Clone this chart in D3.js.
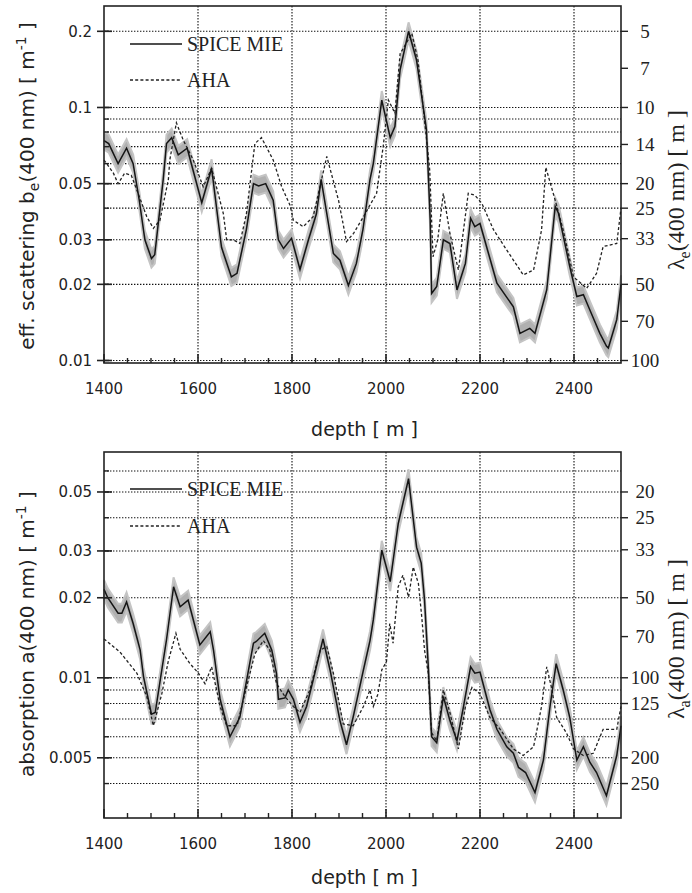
<!DOCTYPE html>
<html><head><meta charset="utf-8">
<script src="https://cdn.jsdelivr.net/npm/d3@7/dist/d3.min.js"></script>
<style>body{margin:0;background:#fff}</style>
</head><body><svg id="c" width="692" height="893"></svg>
<script>
// ---------- DATA ----------
const depthMajorTicks = [1400,1600,1800,2000,2200,2400];
const depthMinorTicks = [1450,1500,1550,1650,1700,1750,1850,1900,1950,2050,2100,2150,2250,2300,2350,2450];
const depthGrid = [1600,1800,2000,2200,2400];

// top panel: effective scattering
const scatLeftTicks = [0.2,0.1,0.05,0.03,0.02,0.01];
const scatLeftLabels = ["0.2","0.1","0.05","0.03","0.02","0.01"];
const scatGrid = [0.2,0.1,0.09,0.08,0.07,0.06,0.05,0.04,0.03,0.02,0.01];
const scatRightTicks = [5,7,10,14,20,25,33,50,70,100];

const spiceScatDepth = [1400,1410,1430,1448,1462,1475,1487,1501,1508,1526,1533,1544,1558,1577,1608,1629,1650,1671,1683,1703,1718,1729,1744,1760,1771,1782,1799,1817,1835,1852,1862,1888,1902,1920,1937,1951,1966,1973,1991,2009,2019,2030,2048,2065,2086,2094,2097,2108,2122,2136,2151,2169,2180,2189,2200,2236,2271,2285,2306,2317,2342,2360,2367,2391,2406,2420,2434,2455,2469,2473,2491,2500];
const spiceScat = [0.074,0.072,0.060,0.069,0.060,0.043,0.030,0.0253,0.0262,0.052,0.072,0.076,0.065,0.069,0.042,0.0575,0.028,0.0214,0.0221,0.033,0.050,0.049,0.050,0.043,0.030,0.0277,0.0304,0.0229,0.030,0.038,0.052,0.0265,0.0249,0.0198,0.0242,0.033,0.052,0.060,0.107,0.076,0.084,0.141,0.200,0.154,0.082,0.036,0.0184,0.0196,0.030,0.029,0.019,0.0242,0.0365,0.0338,0.0348,0.0202,0.0163,0.0128,0.0134,0.0128,0.019,0.0406,0.0382,0.0235,0.0179,0.0182,0.0158,0.0128,0.0114,0.0112,0.0145,0.020];

const ahaScatDepth = [1400,1420,1430,1444,1458,1480,1491,1505,1519,1537,1540,1554,1569,1590,1611,1629,1654,1661,1675,1689,1703,1721,1735,1760,1778,1796,1803,1824,1845,1874,1895,1899,1916,1931,1952,1980,1994,2005,2019,2030,2055,2068,2082,2093,2100,2110,2122,2136,2154,2175,2189,2204,2229,2257,2292,2314,2331,2340,2360,2377,2399,2427,2448,2462,2491,2500];
const ahaScat = [0.062,0.055,0.050,0.055,0.054,0.042,0.037,0.0333,0.0358,0.052,0.062,0.087,0.074,0.062,0.0486,0.0575,0.038,0.030,0.030,0.029,0.038,0.072,0.076,0.062,0.0486,0.041,0.0358,0.0338,0.037,0.064,0.0458,0.043,0.0295,0.0318,0.037,0.0458,0.070,0.107,0.095,0.163,0.196,0.154,0.089,0.0566,0.0257,0.030,0.0458,0.0318,0.0228,0.0458,0.045,0.0418,0.0328,0.0273,0.0218,0.0228,0.0328,0.058,0.043,0.0328,0.0214,0.0193,0.0221,0.0282,0.029,0.040];

// bottom panel: absorption
const absLeftTicks = [0.05,0.03,0.02,0.01,0.005];
const absLeftLabels = ["0.05","0.03","0.02","0.01","0.005"];
const absGrid = [0.06,0.05,0.04,0.03,0.02,0.01,0.009,0.008,0.007,0.006,0.005,0.004];
const absRightTicks = [20,25,33,50,70,100,125,200,250];

const spiceAbsDepth = [1400,1408,1430,1438,1448,1462,1477,1484,1501,1509,1523,1533,1548,1562,1579,1604,1626,1633,1647,1668,1689,1718,1724,1742,1757,1767,1771,1785,1792,1803,1817,1831,1845,1866,1881,1902,1916,1930,1952,1966,1973,1991,2009,2026,2048,2065,2075,2082,2090,2097,2108,2122,2136,2151,2165,2180,2189,2200,2221,2236,2257,2271,2282,2297,2317,2335,2349,2362,2377,2391,2406,2420,2434,2448,2469,2491,2500];
const spiceAbs = [0.0215,0.0200,0.0175,0.0175,0.0193,0.0160,0.0127,0.0101,0.0073,0.0074,0.0107,0.0139,0.0220,0.0185,0.0196,0.0133,0.0149,0.0127,0.0083,0.0060,0.0071,0.0135,0.0137,0.0147,0.0127,0.0104,0.0083,0.0084,0.0090,0.0083,0.0068,0.0078,0.0098,0.0140,0.0107,0.0069,0.0056,0.0071,0.0107,0.0138,0.0165,0.0302,0.0230,0.0380,0.0561,0.0310,0.0270,0.0196,0.0110,0.0060,0.0057,0.0085,0.0069,0.0058,0.0078,0.0110,0.0104,0.0105,0.0076,0.0064,0.0055,0.0052,0.0046,0.0044,0.0037,0.0049,0.0078,0.0113,0.0090,0.0071,0.0049,0.0055,0.0048,0.0044,0.0036,0.0051,0.0066];

const ahaAbsDepth = [1400,1434,1470,1491,1505,1523,1537,1553,1562,1583,1601,1615,1629,1647,1661,1683,1703,1721,1739,1753,1767,1785,1803,1817,1838,1860,1874,1888,1909,1930,1952,1966,1973,1983,1991,2001,2008,2015,2026,2036,2048,2058,2069,2076,2082,2090,2097,2108,2122,2136,2154,2169,2183,2200,2221,2243,2271,2292,2314,2331,2342,2352,2363,2384,2399,2420,2441,2462,2491,2500];
const ahaAbs = [0.0140,0.0125,0.0104,0.0085,0.0066,0.0087,0.0116,0.0147,0.0128,0.0113,0.0104,0.0095,0.0110,0.0078,0.0066,0.0066,0.0092,0.0123,0.0138,0.0127,0.0095,0.0085,0.0078,0.0074,0.0090,0.0127,0.0131,0.0104,0.0067,0.0066,0.0078,0.0090,0.0078,0.0087,0.0107,0.0115,0.0160,0.0135,0.0220,0.0243,0.0201,0.0261,0.0226,0.0170,0.0127,0.0104,0.0062,0.0058,0.0090,0.0074,0.0054,0.0078,0.0092,0.0087,0.0071,0.0064,0.0054,0.0051,0.0055,0.0078,0.0110,0.0092,0.0071,0.0062,0.0054,0.0051,0.0052,0.0064,0.0064,0.0078];

const legendLabels = ["SPICE MIE","AHA"];
const relUncertainty = 0.085;

// ---------- DRAW ----------
const svg = d3.select("#c");
const X0 = 104, X1 = 621;
const x = d3.scaleLinear().domain([1400,2500]).range([X0,X1]);
const SANS = "DejaVu Sans", SERIF = "Liberation Serif";

function zip(ds, vs){ return ds.map((d,i)=>({d:d, v:vs[i]})); }

function panel(o){
  const g = svg.append("g");
  const y = d3.scaleLog().domain(o.domain).range([o.y1,o.y0]);
  const yR = d3.scaleLog().domain([1/o.domain[1], 1/o.domain[0]]).range([o.y0,o.y1]);

  // grid
  const gridStyle = s => s.attr("stroke","#111").attr("stroke-width",1.1).attr("stroke-dasharray","1.4,1.6");
  g.selectAll(".hg").data(o.grid).enter().append("line")
    .attr("x1",X0).attr("x2",X1).attr("y1",d=>y(d)).attr("y2",d=>y(d)).call(gridStyle);
  g.selectAll(".vg").data(depthGrid).enter().append("line")
    .attr("x1",d=>x(d)).attr("x2",d=>x(d)).attr("y1",o.y0).attr("y2",o.y1).call(gridStyle);

  // band
  const sp = zip(o.spiceD,o.spiceV);
  g.append("path").datum(sp)
    .attr("d", d3.area().x(p=>x(p.d)).y0(p=>y(p.v/(1+relUncertainty))).y1(p=>y(p.v*(1+relUncertainty))))
    .attr("fill","#b0b0b0").attr("stroke","#c4c4c4").attr("stroke-width",2);
  // AHA
  g.append("path").datum(zip(o.ahaD,o.ahaV))
    .attr("d", d3.line().x(p=>x(p.d)).y(p=>y(p.v)))
    .attr("fill","none").attr("stroke","#222").attr("stroke-width",1.3).attr("stroke-dasharray","3,2.2");
  // SPICE
  g.append("path").datum(sp)
    .attr("d", d3.line().x(p=>x(p.d)).y(p=>y(p.v)))
    .attr("fill","none").attr("stroke","#151515").attr("stroke-width",1.5);

  // frame
  g.append("rect").attr("x",X0).attr("y",o.y0).attr("width",X1-X0).attr("height",o.y1-o.y0)
    .attr("fill","none").attr("stroke","#222").attr("stroke-width",1.6);

  // x ticks (inward)
  g.selectAll(".xt").data(depthMajorTicks).enter().append("line")
    .attr("x1",d=>x(d)).attr("x2",d=>x(d)).attr("y1",o.y1).attr("y2",o.y1-9)
    .attr("stroke","#222").attr("stroke-width",1.6);
  g.selectAll(".xm").data(depthMinorTicks).enter().append("line")
    .attr("x1",d=>x(d)).attr("x2",d=>x(d)).attr("y1",o.y1).attr("y2",o.y1-5)
    .attr("stroke","#222").attr("stroke-width",1.4);
  g.selectAll(".xl").data(depthMajorTicks).enter().append("text")
    .attr("x",d=>x(d)).attr("y",o.y1+31).attr("text-anchor","middle")
    .attr("font-family",SANS).attr("font-size",15).attr("fill","#222").text(d=>d);
  g.append("text").attr("x",(X0+X1)/2+2).attr("y",o.xTitleY).attr("text-anchor","middle")
    .attr("font-family",SANS).attr("font-size",19).attr("fill","#222").text("depth [ m ]");

  // left ticks
  g.selectAll(".lm").data(o.grid).enter().append("line")
    .attr("x1",X0).attr("x2",X0+5).attr("y1",d=>y(d)).attr("y2",d=>y(d))
    .attr("stroke","#222").attr("stroke-width",1.4);
  g.selectAll(".lt").data(o.leftTicks).enter().append("line")
    .attr("x1",X0-7).attr("x2",X0+8).attr("y1",d=>y(d)).attr("y2",d=>y(d))
    .attr("stroke","#222").attr("stroke-width",1.6);
  g.selectAll(".ll").data(o.leftTicks).enter().append("text")
    .attr("x",92).attr("y",d=>y(d)).attr("dy","0.36em").attr("text-anchor","end")
    .attr("font-family",SANS).attr("font-size",15).attr("fill","#222").text((d,i)=>o.leftLabels[i]);

  // right ticks (lambda)
  g.selectAll(".rt").data(o.rightTicks).enter().append("line")
    .attr("x1",X1).attr("x2",X1+7).attr("y1",d=>yR(d)).attr("y2",d=>yR(d))
    .attr("stroke","#222").attr("stroke-width",1.4);
  g.selectAll(".rl").data(o.rightTicks).enter().append("text")
    .attr("x",645).attr("y",d=>yR(d)).attr("dy","0.34em").attr("text-anchor","middle")
    .attr("font-family",SERIF).attr("font-size",19).attr("fill","#222").text(d=>d);

  // left title
  const lt = g.append("text").attr("transform",`translate(27,${o.leftTitleY}) rotate(-90)`)
    .attr("text-anchor","middle").attr("dy","0.35em")
    .attr("font-family",SANS).attr("font-size",20).attr("fill","#222");
  lt.append("tspan").text(o.leftTitleA);
  if (o.leftSub){ lt.append("tspan").attr("font-size",14).attr("dy",5).text(o.leftSub);
    lt.append("tspan").attr("dy",-5).text("(400 nm) [ m"); }
  else lt.append("tspan").text("(400 nm) [ m");
  lt.append("tspan").attr("font-size",14).attr("dy",-8).text("-1");
  lt.append("tspan").attr("dy",8).text(" ]");

  // right title
  const rt = g.append("text").attr("transform",`translate(676,${o.rightTitleY}) rotate(-90)`)
    .attr("text-anchor","middle").attr("dy","0.35em")
    .attr("font-family",SERIF).attr("font-size",24).attr("fill","#222");
  rt.append("tspan").text("λ");
  rt.append("tspan").attr("font-size",16).attr("dy",6).text(o.rightSub);
  rt.append("tspan").attr("dy",-6).text("(400 nm) [ m ]");

  // legend
  const lg = g.append("g");
  lg.append("line").attr("x1",130).attr("x2",182).attr("y1",o.legY[0]).attr("y2",o.legY[0])
    .attr("stroke","#151515").attr("stroke-width",1.5);
  lg.append("line").attr("x1",130).attr("x2",182).attr("y1",o.legY[1]).attr("y2",o.legY[1])
    .attr("stroke","#222").attr("stroke-width",1.3).attr("stroke-dasharray","3,2.2");
  lg.selectAll("text").data(legendLabels).enter().append("text")
    .attr("x",187).attr("y",(d,i)=>o.legY[i]).attr("dy","0.34em")
    .attr("font-family",SERIF).attr("font-size",20).attr("fill","#222").text(d=>d);
}

panel({
  y0:6, y1:363, domain:[0.009775,0.2518], grid:scatGrid,
  leftTicks:scatLeftTicks, leftLabels:scatLeftLabels, rightTicks:scatRightTicks,
  spiceD:spiceScatDepth, spiceV:spiceScat, ahaD:ahaScatDepth, ahaV:ahaScat,
  xTitleY:436, leftTitleY:186, leftTitleA:"eff. scattering b", leftSub:"e",
  rightTitleY:190, rightSub:"e", legY:[44,80]
});
panel({
  y0:452, y1:818, domain:[0.002968,0.07069], grid:absGrid,
  leftTicks:absLeftTicks, leftLabels:absLeftLabels, rightTicks:absRightTicks,
  spiceD:spiceAbsDepth, spiceV:spiceAbs, ahaD:ahaAbsDepth, ahaV:ahaAbs,
  xTitleY:884, leftTitleY:634, leftTitleA:"absorption a", leftSub:null,
  rightTitleY:639, rightSub:"a", legY:[489,526]
});
</script></body></html>
